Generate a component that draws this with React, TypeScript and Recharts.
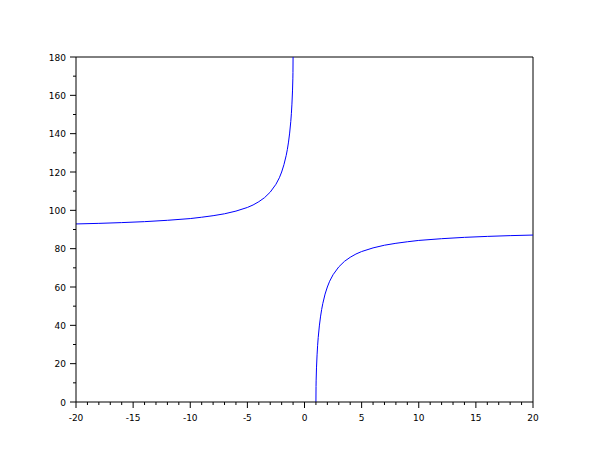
import { LineChart, Line, XAxis, YAxis, ReferenceLine } from "recharts";

// left branch (x < -1)
const leftX = [-20, -18, -16, -14, -12, -10, -9, -8, -7, -6, -5, -4.5, -4, -3.5, -3, -2.5, -2.2, -2, -1.8, -1.6, -1.5, -1.4, -1.3, -1.2, -1.15, -1.1, -1.05, -1.02, -1.01, -1];
const leftY = [92.9, 93.2, 93.6, 94.1, 94.8, 95.7, 96.4, 97.2, 98.2, 99.6, 101.5, 102.8, 104.5, 106.6, 109.5, 113.6, 117.0, 120, 123.8, 128.7, 131.8, 135.6, 140.3, 146.4, 150.4, 155.4, 162.3, 168.6, 171.9, 180];

// right branch (x > 1)
const rightX = [1, 1.01, 1.02, 1.05, 1.1, 1.15, 1.2, 1.3, 1.4, 1.5, 1.6, 1.8, 2, 2.2, 2.5, 3, 3.5, 4, 4.5, 5, 6, 7, 8, 9, 10, 12, 14, 16, 18, 20];
const rightY = [0, 8.1, 11.4, 17.8, 24.6, 29.6, 33.6, 39.7, 44.4, 48.2, 51.3, 56.3, 60, 63.0, 66.4, 70.5, 73.4, 75.5, 77.2, 78.5, 80.4, 81.8, 82.8, 83.6, 84.3, 85.2, 85.9, 86.4, 86.8, 87.1];

const xMajor = [-20, -15, -10, -5, 0, 5, 10, 15, 20];
const yMajor = [0, 20, 40, 60, 80, 100, 120, 140, 160, 180];
const xTicks = Array.from({ length: 41 }, (_, i) => i - 20);
const yTicks = Array.from({ length: 19 }, (_, i) => i * 10);

const leftData = leftX.map((x, i) => ({ x, y: leftY[i] }));
const rightData = rightX.map((x, i) => ({ x, y: rightY[i] }));

const FONT = "DejaVu Sans, sans-serif";

const XTick = (props: any) => {
  const { x, y, payload } = props;
  const major = xMajor.includes(payload.value);
  return (
    <g>
      <line x1={x} y1={y} x2={x} y2={y + (major ? 6 : 3)} stroke="#000" />
      {major && (
        <text x={x} y={y + 19} textAnchor="middle" fontSize={9} fontFamily={FONT} fill="#000">
          {payload.value}
        </text>
      )}
    </g>
  );
};

const YTick = (props: any) => {
  const { x, y, payload } = props;
  const major = yMajor.includes(payload.value);
  return (
    <g>
      <line x1={x} y1={y} x2={x - (major ? 6 : 3)} y2={y} stroke="#000" />
      {major && (
        <text x={x - 10} y={y + 3.5} textAnchor="end" fontSize={9} fontFamily={FONT} fill="#000">
          {payload.value}
        </text>
      )}
    </g>
  );
};

export default function App() {
  return (
    <div style={{ position: "absolute", left: 0, top: 0, background: "#fff" }}>
      <LineChart width={610} height={460} margin={{ top: 57, right: 77, left: 0, bottom: 0 }}>
        <XAxis
          type="number"
          dataKey="x"
          domain={[-20, 20]}
          ticks={xTicks}
          interval={0}
          tickSize={0}
          tickMargin={0}
          tick={<XTick />}
          height={58}
          stroke="#000"
          allowDataOverflow
        />
        <YAxis
          type="number"
          dataKey="y"
          domain={[0, 180]}
          ticks={yTicks}
          interval={0}
          tickSize={0}
          tickMargin={0}
          tick={<YTick />}
          width={76}
          stroke="#000"
          allowDataOverflow
        />
        <ReferenceLine y={180} stroke="#000" />
        <ReferenceLine x={20} stroke="#000" />
        <Line data={leftData} dataKey="y" type="linear" stroke="#0000ff" strokeWidth={1} dot={false} isAnimationActive={false} />
        <Line data={rightData} dataKey="y" type="linear" stroke="#0000ff" strokeWidth={1} dot={false} isAnimationActive={false} />
      </LineChart>
    </div>
  );
}
